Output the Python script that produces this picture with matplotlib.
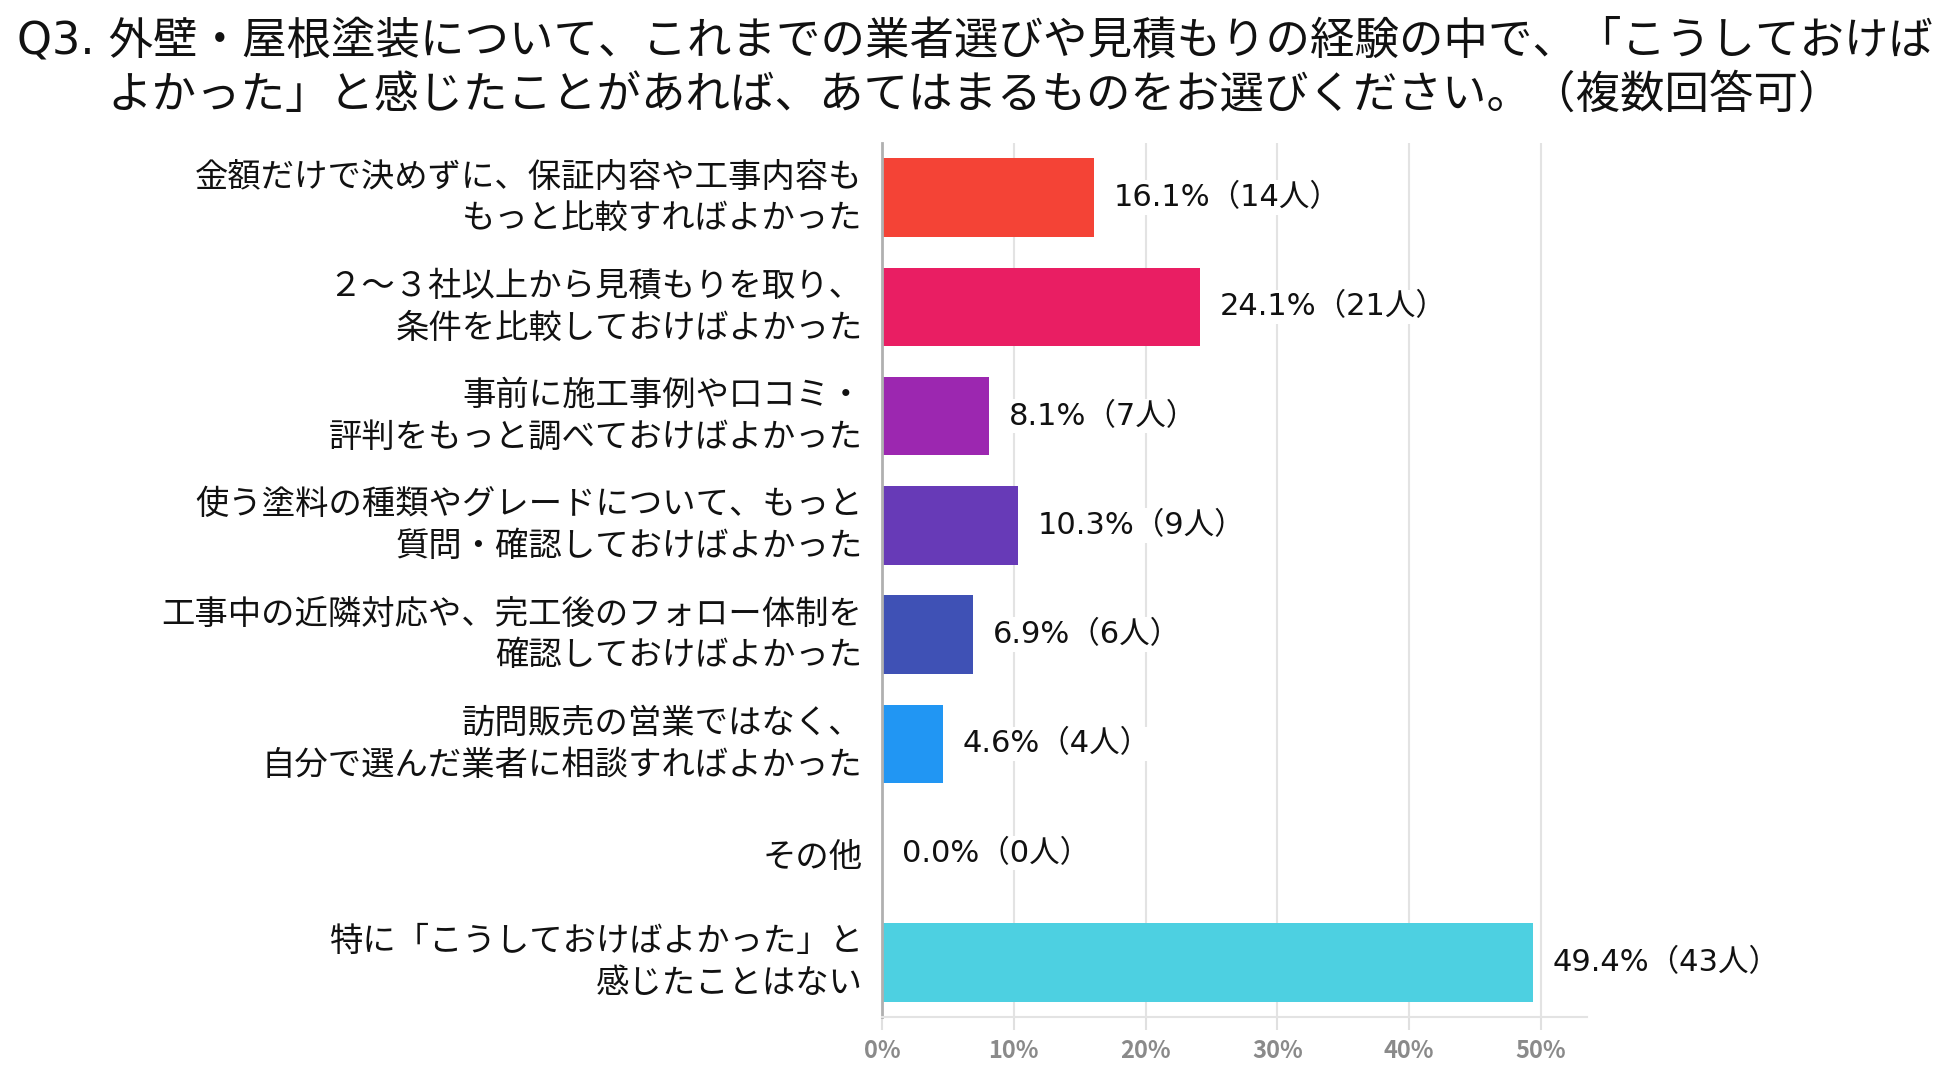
import matplotlib
matplotlib.use("Agg")
import matplotlib.pyplot as plt
from matplotlib.transforms import ScaledTranslation

plt.rcParams["font.family"] = ["Noto Sans CJK JP", "DejaVu Sans"]

# データ
categories = [
    "金額だけで決めずに、保証内容や工事内容も\nもっと比較すればよかった",
    "２～３社以上から見積もりを取り、\n条件を比較しておけばよかった",
    "事前に施工事例や口コミ・\n評判をもっと調べておけばよかった",
    "使う塗料の種類やグレードについて、もっと\n質問・確認しておけばよかった",
    "工事中の近隣対応や、完工後のフォロー体制を\n確認しておけばよかった",
    "訪問販売の営業ではなく、\n自分で選んだ業者に相談すればよかった",
    "その他",
    "特に「こうしておけばよかった」と\n感じたことはない",
]
percents = [16.1, 24.1, 8.1, 10.3, 6.9, 4.6, 0.0, 49.4]
counts = [14, 21, 7, 9, 6, 4, 0, 43]
colors = ["#F44336", "#E91E63", "#9C27B0", "#673AB7", "#3F51B5", "#2196F3", "#00BCD4", "#4DD0E1"]
xticks = [0, 10, 20, 30, 40, 50]

title = ("Q3. 外壁・屋根塗装について、これまでの業者選びや見積もりの経験の中で、「こうしておけば\n"
         "よかった」と感じたことがあれば、あてはまるものをお選びください。（複数回答可）")

fig = plt.figure(figsize=(19.5, 10.81), dpi=100)
ax = fig.add_axes([882 / 1950, 64 / 1081, 705 / 1950, 874 / 1081])

y = list(range(len(categories)))
ax.barh(y, percents, height=0.72, color=colors, zorder=2)

# 値ラベル（数字は幅の広いフォント）
for yi, p, n in zip(y, percents, counts):
    ax.text(p + 1.5, yi, f"{p:.1f}%（{n}人）", va="center", ha="left", fontsize=22,
            family=["DejaVu Sans", "Noto Sans CJK JP"], color="#111111", zorder=3,
            bbox=dict(facecolor="white", edgecolor="none", pad=2))

ax.set_ylim(len(categories) - 0.5, -0.5)
ax.set_xlim(0, 53.5)
ax.set_yticks(y)
ax.set_yticklabels(categories, fontsize=24, color="#111111", linespacing=1.25)
ax.tick_params(axis="y", length=0, pad=14)
# 2行のラベルだけ少し上へ
shift = ScaledTranslation(0, 7 / 100, fig.dpi_scale_trans)
for lbl in ax.get_yticklabels():
    if "\n" in lbl.get_text():
        lbl.set_transform(lbl.get_transform() + shift)

ax.set_xticks(xticks)
ax.set_xticklabels([f"{t}%" for t in xticks], fontsize=17, color="#8a8a8a", fontweight="bold")
ax.tick_params(axis="x", length=9, width=1.5, color="#e0e0e0", pad=7)

ax.grid(axis="x", color="#e3e3e3", linewidth=1.5, zorder=0)
ax.set_axisbelow(True)

for s in ["top", "right"]:
    ax.spines[s].set_visible(False)
ax.spines["left"].set_color("#b0b0b0")
ax.spines["left"].set_linewidth(2)
ax.spines["bottom"].set_color("#e3e3e3")
ax.spines["bottom"].set_linewidth(1.5)

fig.text(0.5, 1 - 68 / 1081, title, ha="center", va="center", fontsize=32,
         linespacing=1.35, color="#111111", family=["DejaVu Sans", "Noto Sans CJK JP"])

fig.savefig("out.png", dpi=100, facecolor="white")
